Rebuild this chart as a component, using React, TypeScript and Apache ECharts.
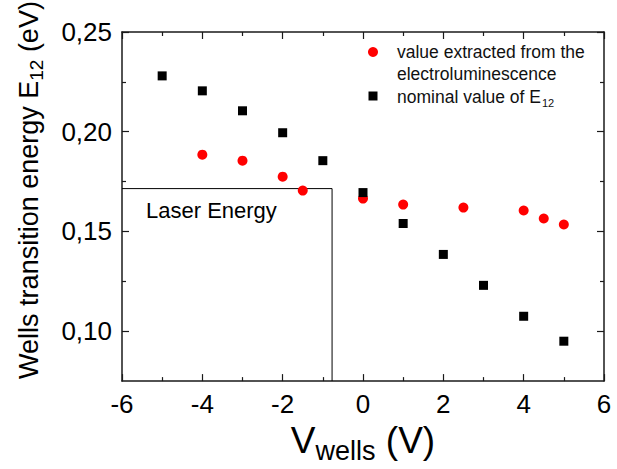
import React, { useEffect, useRef } from "react";
import * as echarts from "echarts";

// Bias voltage on the wells (V) and the E12 transition energy (eV)
const nominalVoltage = [-5, -4, -3, -2, -1, 0, 1, 2, 3, 4, 5];
const nominalEnergy = [0.228, 0.2205, 0.2105, 0.1995, 0.1855, 0.1695, 0.154, 0.1385, 0.123, 0.1075, 0.095];

const elVoltage = [-4, -3, -2, -1.5, 0, 1, 2.5, 4, 4.5, 5];
const elEnergy = [0.1885, 0.1855, 0.1775, 0.1705, 0.1665, 0.1635, 0.162, 0.1605, 0.1565, 0.1535];

// Laser photon energy and the bias where it meets the E12 curve
const laserEnergy = 0.1715;
const laserVoltage = -0.77;

const xTicks = [-6, -4, -2, 0, 2, 4, 6];
const yMajorTicks = [0.1, 0.15, 0.2, 0.25];
const yMinorTicks = [0.125, 0.175, 0.225];
const yMin = 0.075;
const yMax = 0.25;

const FONT = "'Liberation Sans', Arial, sans-serif";
const INK = "#1a1a1a";

export default function App() {
  const ref = useRef<HTMLDivElement>(null);

  useEffect(() => {
    if (!ref.current) return;
    const chart = echarts.init(ref.current, undefined, { renderer: "svg" });

    const axisLine = { show: true, onZero: false, lineStyle: { color: INK, width: 1.5 } };
    const noLine = { show: false, onZero: false };
    const tickLine = { color: INK, width: 1.2 };

    const xBase = {
      type: "value" as const,
      min: xTicks[0],
      max: xTicks[xTicks.length - 1],
      interval: 2,
      axisLine,
      axisTick: { show: true, inside: true, length: 7, lineStyle: tickLine },
      minorTick: { show: true, splitNumber: 2, length: 4, lineStyle: tickLine },
      splitLine: { show: false },
    };

    const yBase = {
      type: "value" as const,
      min: yMin,
      max: yMax,
      splitLine: { show: false },
    };

    chart.setOption({
      animation: false,
      backgroundColor: "#ffffff",
      grid: { left: 122, right: 13, top: 32, bottom: 81 },
      xAxis: [
        {
          ...xBase,
          position: "bottom",
          axisLabel: { fontSize: 26, color: "#000", margin: 10, fontFamily: FONT },
          name: "{m|V}{s|wells}{m| (V)}",
          nameLocation: "middle",
          nameGap: 33,
          nameTextStyle: {
            fontFamily: FONT,
            color: "#000",
            rich: {
              m: { fontSize: 37, fontFamily: FONT, color: "#000" },
              s: { fontSize: 27, fontFamily: FONT, color: "#000", padding: [20, 0, 0, 0] },
            },
          },
        },
        {
          ...xBase,
          position: "top",
          axisLabel: { show: false },
        },
      ],
      yAxis: [
        {
          ...yBase,
          position: "left",
          axisLine,
          axisTick: { show: true, inside: true, length: 7, lineStyle: tickLine, customValues: yMajorTicks },
          axisLabel: {
            fontSize: 26,
            color: "#000",
            margin: 10,
            fontFamily: FONT,
            customValues: yMajorTicks,
            formatter: (v: number) => v.toFixed(2).replace(".", ","),
          },
        },
        {
          ...yBase,
          position: "left",
          axisLine: noLine,
          axisTick: { show: true, inside: true, length: 4, lineStyle: tickLine, customValues: yMinorTicks },
          axisLabel: { show: false },
        },
        {
          ...yBase,
          position: "right",
          axisLine,
          axisTick: { show: true, inside: true, length: 7, lineStyle: tickLine, customValues: yMajorTicks },
          axisLabel: { show: false },
        },
        {
          ...yBase,
          position: "right",
          axisLine: noLine,
          axisTick: { show: true, inside: true, length: 4, lineStyle: tickLine, customValues: yMinorTicks },
          axisLabel: { show: false },
        },
      ],
      series: [
        {
          name: "Laser Energy",
          type: "line",
          xAxisIndex: 0,
          yAxisIndex: 0,
          data: [
            [xTicks[0], laserEnergy],
            [laserVoltage, laserEnergy],
            [laserVoltage, yMin],
          ],
          showSymbol: false,
          symbol: "none",
          silent: true,
          lineStyle: { color: "#000", width: 1 },
          z: 1,
        },
        {
          name: "value extracted from the electroluminescence",
          type: "scatter",
          xAxisIndex: 0,
          yAxisIndex: 0,
          data: elVoltage.map((v, i) => [v, elEnergy[i]]),
          symbol: "circle",
          symbolSize: 10,
          itemStyle: { color: "#ff0000", opacity: 1 },
          z: 2,
        },
        {
          name: "nominal value of E12",
          type: "scatter",
          xAxisIndex: 0,
          yAxisIndex: 0,
          data: nominalVoltage.map((v, i) => [v, nominalEnergy[i]]),
          symbol: "rect",
          symbolSize: 9,
          itemStyle: { color: "#000", opacity: 1 },
          z: 3,
        },
      ],
      graphic: [
        // y-axis title, rotated
        {
          type: "text",
          x: 29,
          y: 190,
          rotation: Math.PI / 2,
          style: {
            text: "{m|Wells transition energy E}{s|12}{m| (eV)}",
            align: "center",
            verticalAlign: "middle",
            fontFamily: FONT,
            fill: "#000",
            rich: {
              m: { fontSize: 27, fontFamily: FONT, fill: "#000" },
              s: { fontSize: 19, fontFamily: FONT, fill: "#000", padding: [14, 0, 0, 0] },
            },
          },
        },
        {
          type: "text",
          left: 146,
          top: 199,
          style: { text: "Laser Energy", fontSize: 22, fontFamily: FONT, fill: "#000" },
        },
        // legend
        { type: "circle", shape: { cx: 373, cy: 52, r: 5 }, style: { fill: "#ff0000" } },
        {
          type: "text",
          x: 397,
          y: 41,
          style: {
            text: "value extracted from the\nelectroluminescence",
            fontSize: 17.5,
            lineHeight: 22,
            fontFamily: FONT,
            fill: "#111",
            verticalAlign: "top",
          },
        },
        { type: "rect", shape: { x: 368.5, y: 91.5, width: 9, height: 9 }, style: { fill: "#000" } },
        {
          type: "text",
          x: 397,
          y: 85,
          style: {
            text: "{m|nominal value of E}{s|12}",
            fontFamily: FONT,
            fill: "#111",
            verticalAlign: "top",
            rich: {
              m: { fontSize: 17.5, fontFamily: FONT, fill: "#111", lineHeight: 22 },
              s: { fontSize: 11, fontFamily: FONT, fill: "#111", padding: [12, 0, 0, 1] },
            },
          },
        },
      ],
    });

    return () => chart.dispose();
  }, []);

  return (
    <div
      ref={ref}
      style={{ position: "fixed", left: 0, top: 0, width: 617, height: 469, background: "#fff" }}
    />
  );
}
